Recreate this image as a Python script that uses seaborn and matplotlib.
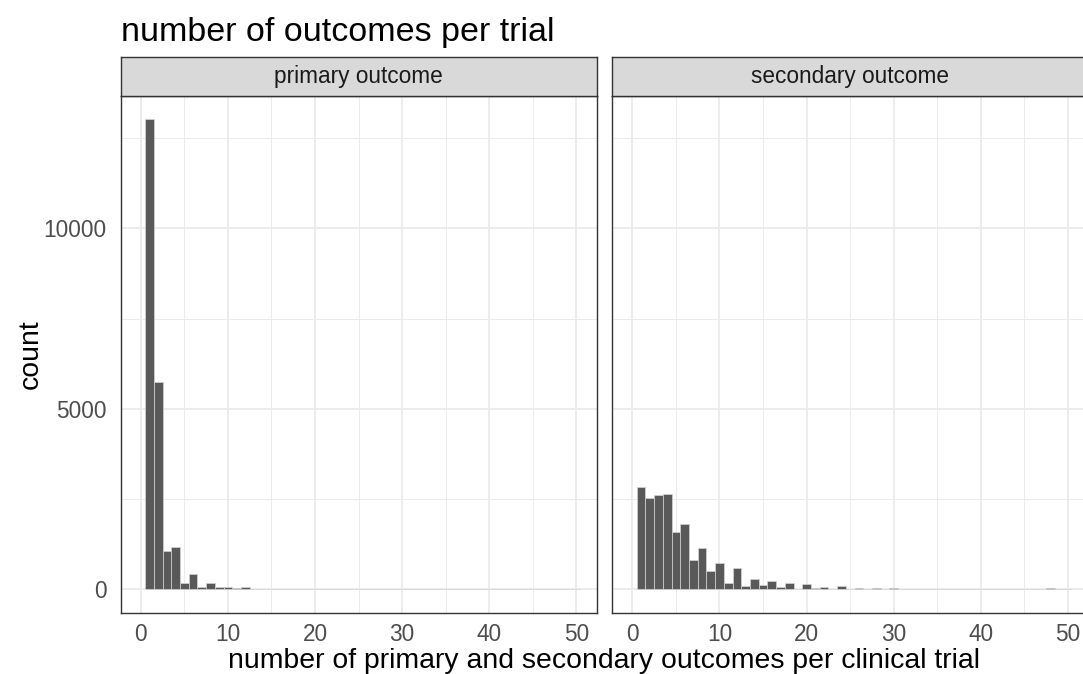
import matplotlib
matplotlib.use("Agg")
import matplotlib.pyplot as plt
import seaborn as sns
from matplotlib.ticker import MultipleLocator, FixedLocator

# number of outcomes listed per trial (histogram bins, width 1)
outcome_counts = list(range(1, 51))

primary_trials = [13020, 5750, 1060, 1170, 185, 425, 75, 165, 55, 60,
                  20, 50, 10, 8, 8, 6, 2, 8, 2, 4,
                  2, 5, 4, 3, 1, 2, 0, 1, 0, 1,
                  0, 0, 0, 0, 0, 0, 0, 0, 0, 0,
                  0, 0, 0, 0, 0, 0, 0, 0, 0, 0]

secondary_trials = [2830, 2540, 2610, 2640, 1580, 1810, 800, 1130, 495, 740,
                    160, 575, 85, 275, 120, 240, 65, 160, 15, 140,
                    45, 65, 10, 92, 10, 45, 8, 25, 4, 30,
                    3, 12, 3, 12, 2, 12, 2, 10, 2, 12,
                    2, 10, 2, 8, 2, 8, 2, 25, 1, 3]

facet_labels = ["primary outcome", "secondary outcome"]
x_ticks = [0, 10, 20, 30, 40, 50]
y_ticks = [0, 5000, 10000]
y_tick_labels = ["0", "5000", "10000"]

title = "number of outcomes per trial"
x_title = "number of primary and secondary outcomes per clinical trial"
y_title = "count"

sns.set_theme(style="white")
plt.rcParams["font.family"] = ["Liberation Sans", "DejaVu Sans"]

W, H = 1083, 674
fig = plt.figure(figsize=(W / 100, H / 100), dpi=100)
fig.patch.set_facecolor("white")


def box(left, top, right, bottom):
    return [left / W, 1 - bottom / H, (right - left) / W, (bottom - top) / H]


panel_w = 475.8
panel_lefts = [120.7, 612.3]
panel_top, panel_bottom = 96.0, 612.7
strip_top = 57.0
dark = "#333333"

for i, (counts, label, left) in enumerate(zip([primary_trials, secondary_trials],
                                              facet_labels, panel_lefts)):
    ax = fig.add_axes(box(left, panel_top, left + panel_w, panel_bottom))
    sns.histplot(x=outcome_counts, weights=counts, discrete=True, ax=ax,
                 color="#595959", edgecolor="#d4d4d4", linewidth=0.5,
                 alpha=1, zorder=2)
    ax.set_xlim(-2.3, 52.3)
    ax.set_ylim(-651, 13671)
    ax.set_axisbelow(True)
    ax.set_facecolor("white")
    ax.xaxis.set_major_locator(FixedLocator(x_ticks))
    ax.xaxis.set_minor_locator(MultipleLocator(5))
    ax.yaxis.set_major_locator(FixedLocator(y_ticks))
    ax.yaxis.set_minor_locator(FixedLocator([2500, 7500, 12500]))
    ax.grid(which="major", color="#ebebeb", linewidth=1.3, zorder=0)
    ax.grid(which="minor", color="#ebebeb", linewidth=0.7, zorder=0)
    ax.tick_params(which="minor", length=0)
    ax.tick_params(which="major", length=3.5, width=1.0, color=dark,
                   labelsize=16.3, labelcolor="#4d4d4d", pad=4)
    ax.tick_params(axis="y", pad=6.5)
    ax.set_xticklabels([str(t) for t in x_ticks])
    if i == 0:
        ax.set_yticklabels(y_tick_labels)
    else:
        ax.tick_params(axis="y", left=False, labelleft=False)
    ax.set_xlabel("")
    ax.set_ylabel("")
    for sp in ax.spines.values():
        sp.set_color(dark)
        sp.set_linewidth(1.0)
        sp.set_visible(True)

    sax = fig.add_axes(box(left, strip_top, left + panel_w, panel_top))
    sax.set_facecolor("#d9d9d9")
    sax.set_xticks([])
    sax.set_yticks([])
    for sp in sax.spines.values():
        sp.set_color(dark)
        sp.set_linewidth(1.0)
    sax.text(0.5, 0.5, label, transform=sax.transAxes, ha="center",
             va="center", fontsize=16.3, color="#1a1a1a")

fig.text(120.7 / W, 1 - 41.5 / H, title, ha="left", va="baseline",
         fontsize=24.5, color="black")
fig.text(604 / W, 1 - 668 / H, x_title, ha="center", va="baseline",
         fontsize=20.4, color="black")
fig.text(31 / W, 1 - 354 / H, y_title, ha="center", va="center",
         rotation=90, fontsize=20.4, color="black")

fig.savefig("out.png", dpi=100, facecolor="white")
